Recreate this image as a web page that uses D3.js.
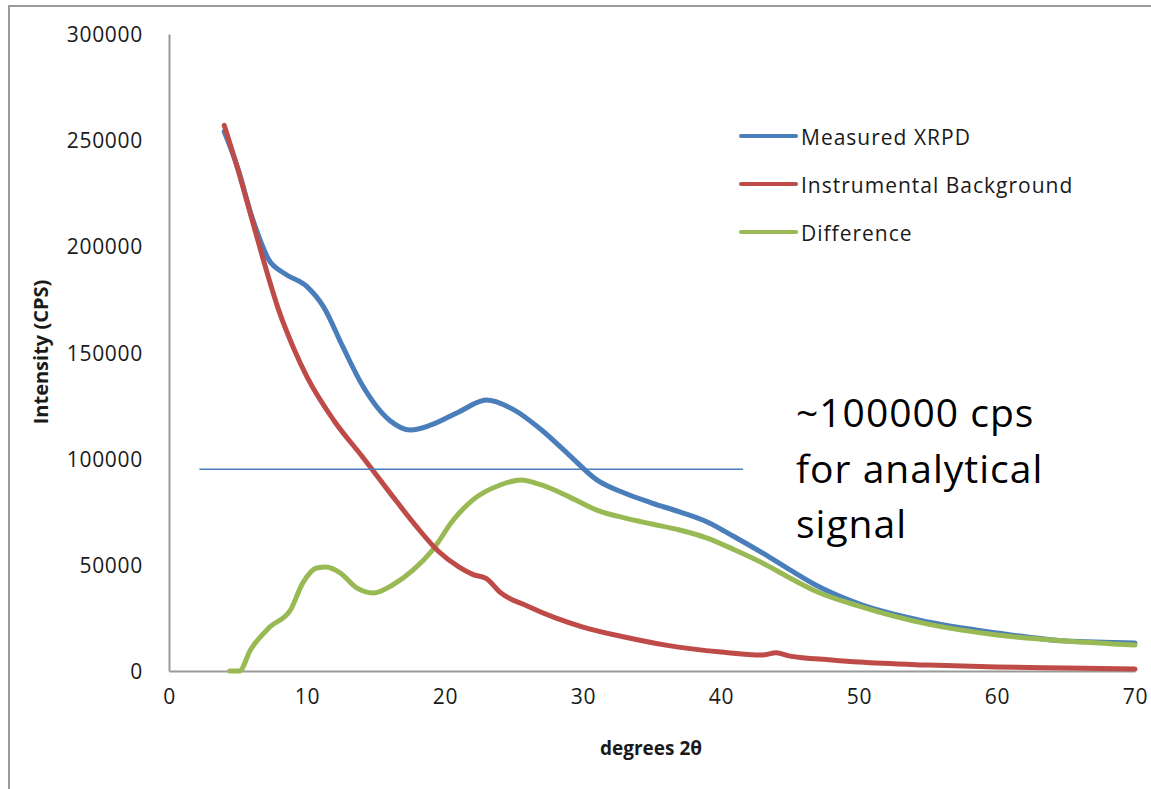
<!DOCTYPE html>
<html>
<head>
<meta charset="utf-8">
<script src="https://cdn.jsdelivr.net/npm/d3@7"></script>
<style>
  html, body { margin: 0; padding: 0; background: #fff; }
  svg { display: block; }
</style>
</head>
<body>
<svg id="chart" width="1151" height="789"></svg>
<script>
// XRPD pattern: measured intensity, instrument background and their difference
const twoTheta = [4, 5, 6, 6.6, 7.2, 8.3, 10, 11.2, 12.6, 14, 16, 17.5, 19, 21, 23, 25, 27, 29, 31, 33, 35, 37, 39, 41, 43, 45, 47, 50, 55, 60, 65, 70];
const measured = [254000, 236500, 214000, 203000, 194000, 187500, 181000, 171500, 152600, 134700, 118000, 113500, 115900, 122000, 127600, 123000, 113500, 101700, 90000, 83800, 79100, 74900, 70200, 63100, 55600, 47600, 40000, 31600, 23100, 17900, 14100, 13200];

const bgTheta = [4, 5, 6, 7, 8, 9, 10, 12, 14, 16, 18, 19.5, 21, 22, 23, 24, 26, 28, 30, 33, 36, 40, 43, 44, 45, 48, 50, 55, 60, 65, 70];
const background = [257000, 236000, 213000, 190000, 169000, 152500, 138500, 117500, 101000, 84000, 67500, 56500, 49000, 45500, 43500, 37000, 30500, 25000, 20700, 16000, 12200, 8900, 7500, 8600, 7000, 5200, 4200, 2800, 1900, 1400, 900];

const diffTheta = [4.4, 5.1, 5.9, 7.3, 8.8, 9.7, 10.7, 11.4, 12.4, 13.6, 14.8, 16.2, 17.7, 19.1, 20.6, 22, 24, 25.5, 27, 29, 31, 33, 35, 37, 39, 41, 43, 45, 47, 50, 55, 60, 65, 70];
const difference = [0, 0, 9900, 20700, 28700, 41500, 48500, 49000, 46200, 39100, 36700, 40500, 47600, 57000, 71100, 80500, 87600, 90000, 87600, 82000, 75800, 72100, 69200, 66400, 62600, 57000, 50900, 43800, 37200, 30600, 22100, 17000, 14100, 12200];

const xTicks = [0, 10, 20, 30, 40, 50, 60, 70];
const yTicks = [0, 50000, 100000, 150000, 200000, 250000, 300000];

const seriesNames = ["Measured XRPD", "Instrumental Background", "Difference"];
const seriesColors = ["#4a7ebb", "#be4b48", "#98b954"];

// reference level for the analytical signal
const signalLevel = 95000;
const signalRange = [2.2, 41.6];
const noteLines = ["~100000 cps", "for analytical", "signal"];

const svg = d3.select("#chart");
const font = "'Open Sans', Lato, sans-serif";

// outer frame
svg.append("path")
  .attr("d", "M9,789 V6 H1151")
  .attr("fill", "none")
  .attr("stroke", "#9a9a9a")
  .attr("stroke-width", 2);

const x = d3.scaleLinear().domain([0, 70]).range([169, 1135]);
const y = d3.scaleLinear().domain([0, 300000]).range([671, 34]);

// axes
const xAxis = svg.append("g")
  .attr("transform", `translate(0,${y(0)})`)
  .call(d3.axisBottom(x).tickValues(xTicks).tickSize(0).tickPadding(26).tickFormat(d3.format("d")));
const yAxis = svg.append("g")
  .attr("transform", `translate(${x(0)},0)`)
  .call(d3.axisLeft(y).tickValues(yTicks).tickSize(0).tickPadding(26).tickFormat(d3.format("d")));

[xAxis, yAxis].forEach(g => {
  g.select(".domain").attr("stroke", "#9a9a9a").attr("stroke-width", 2);
  g.selectAll("text")
    .attr("font-family", font).attr("font-size", 21)
    .attr("letter-spacing", 0.7)
    .attr("fill", "#1a1a1a");
});
yAxis.selectAll("text").attr("dy", "0.36em");
xAxis.selectAll("text").attr("dy", "0.35em");

// axis titles
svg.append("text")
  .attr("x", 651).attr("y", 755)
  .attr("text-anchor", "middle")
  .attr("font-family", font).attr("font-weight", "bold").attr("font-size", 19)
  .attr("fill", "#1a1a1a")
  .text("degrees 2θ");

svg.append("text")
  .attr("transform", "translate(48,352) rotate(-90)")
  .attr("text-anchor", "middle")
  .attr("font-family", font).attr("font-weight", "bold").attr("font-size", 20)
  .attr("fill", "#1a1a1a")
  .text("Intensity (CPS)");

// series
const line = d3.line()
  .x(d => x(d[0]))
  .y(d => y(d[1]))
  .curve(d3.curveMonotoneX);

const series = [
  d3.zip(twoTheta, measured),
  d3.zip(bgTheta, background),
  d3.zip(diffTheta, difference)
];

// draw order: blue, green, then red on top
[0, 2, 1].forEach(i => {
  svg.append("path")
    .datum(series[i])
    .attr("d", line)
    .attr("fill", "none")
    .attr("stroke", seriesColors[i])
    .attr("stroke-width", 5)
    .attr("stroke-linejoin", "round")
    .attr("stroke-linecap", "round");
});

// legend
const legend = svg.append("g");
seriesNames.forEach((name, i) => {
  const ly = 136 + i * 48;
  legend.append("line")
    .attr("x1", 741).attr("x2", 796)
    .attr("y1", ly).attr("y2", ly)
    .attr("stroke", seriesColors[i])
    .attr("stroke-width", 4)
    .attr("stroke-linecap", "round");
  legend.append("text")
    .attr("x", 801).attr("y", ly + 9)
    .attr("font-family", font).attr("font-size", 21)
    .attr("letter-spacing", 1)
    .attr("fill", "#1a1a1a")
    .text(name);
});

// analytical signal level
svg.append("line")
  .attr("x1", x(signalRange[0])).attr("x2", x(signalRange[1]))
  .attr("y1", y(signalLevel)).attr("y2", y(signalLevel))
  .attr("stroke", "#4a7ebb")
  .attr("stroke-width", 1.5);

const note = svg.append("text")
  .attr("font-family", font).attr("font-size", 39)
  .attr("letter-spacing", 1)
  .attr("fill", "#000");
noteLines.forEach((t, i) => {
  note.append("tspan")
    .attr("x", 796).attr("y", 427 + i * 55.5)
    .text(t);
});
</script>
</body>
</html>
